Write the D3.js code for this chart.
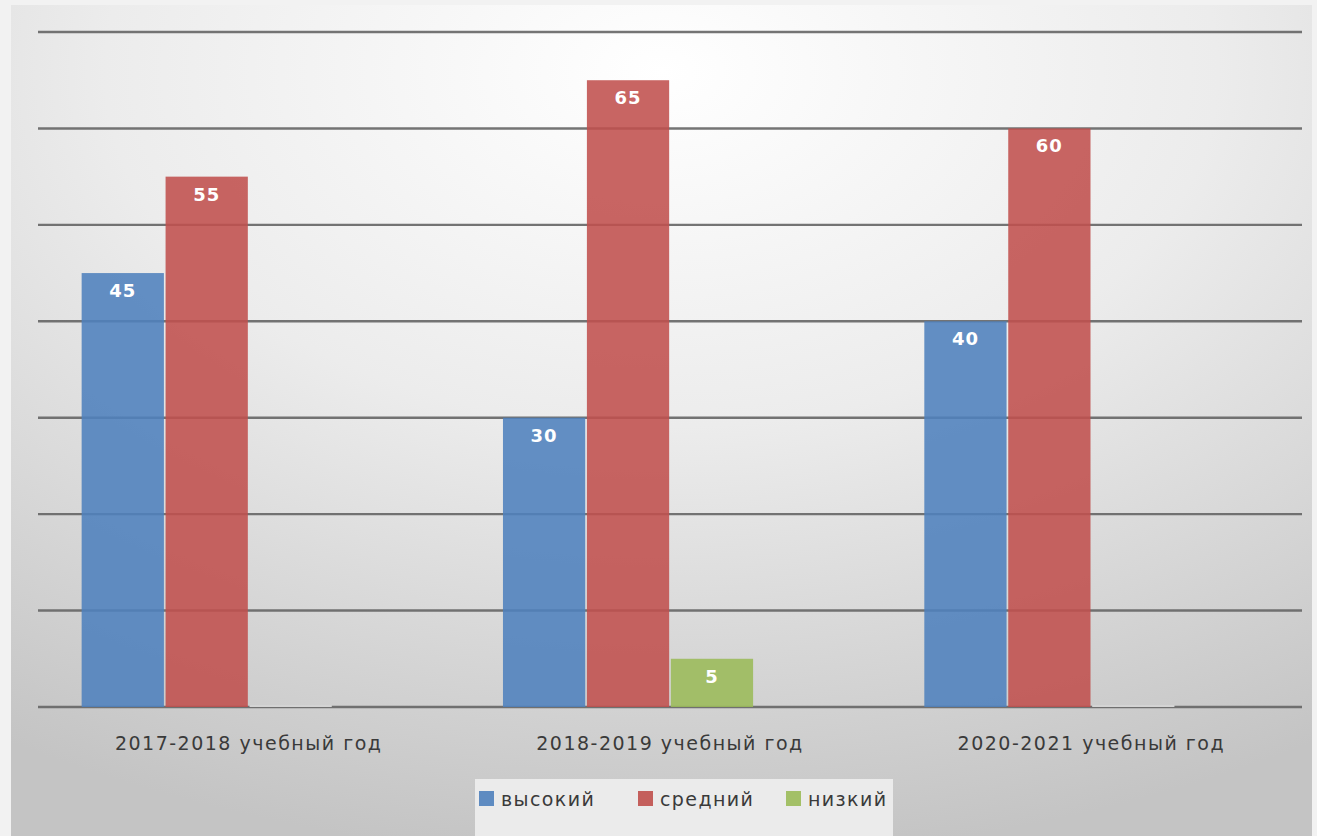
<!DOCTYPE html>
<html>
<head>
<meta charset="utf-8">
<script src="https://cdn.jsdelivr.net/npm/d3@7"></script>
<style>
  html, body { margin: 0; padding: 0; background: #fff; }
  svg { display: block; }
</style>
</head>
<body>
<script>
// data
const categories = ["2017-2018 учебный год", "2018-2019 учебный год", "2020-2021 учебный год"];
const seriesNames = ["высокий", "средний", "низкий"];
const vysokiy = [45, 30, 40];
const sredniy = [55, 65, 60];
const nizkiy = [0, 5, 0];
const yTicks = [0, 10, 20, 30, 40, 50, 60, 70];

const colors = ["#4F81BD", "#C0504D", "#9BBB59"];
const seriesValues = [vysokiy, sredniy, nizkiy];

const W = 1317, H = 836;
const margin = { top: 32, right: 15, bottom: 129, left: 38 };

const svg = d3.select("body").append("svg")
    .attr("width", W)
    .attr("height", H);

// background
const defs = svg.append("defs");
const grad = defs.append("radialGradient")
    .attr("id", "bg")
    .attr("cx", "50%").attr("cy", "8%")
    .attr("r", "95%")
    .attr("gradientUnits", "objectBoundingBox");
grad.append("stop").attr("offset", "0%").attr("stop-color", "#ffffff");
grad.append("stop").attr("offset", "45%").attr("stop-color", "#ececec");
grad.append("stop").attr("offset", "100%").attr("stop-color", "#c4c4c4");

svg.append("rect")
    .attr("x", 0).attr("y", 0).attr("width", W).attr("height", H)
    .attr("fill", "#f2f2f2");
svg.append("rect")
    .attr("x", 11).attr("y", 5).attr("width", 1301).attr("height", H - 5)
    .attr("fill", "url(#bg)");

const x0 = d3.scaleBand()
    .domain(categories)
    .range([margin.left, W - margin.right]);

// four slots per group, the last one is empty
const x1 = d3.scaleBand()
    .domain(d3.range(4))
    .range([0, x0.bandwidth()])
    .paddingInner(0.02)
    .paddingOuter(0.52);

const y = d3.scaleLinear()
    .domain([0, 70])
    .range([H - margin.bottom, margin.top]);

// gridlines
svg.append("g")
    .selectAll("line")
    .data(yTicks)
    .enter().append("line")
    .attr("x1", margin.left)
    .attr("x2", W - margin.right)
    .attr("y1", d => y(d))
    .attr("y2", d => y(d))
    .attr("stroke", "#656565")
    .attr("stroke-width", 2.4)
    .attr("stroke-opacity", 0.9);

// bars
const groups = svg.append("g")
    .selectAll("g")
    .data(categories)
    .enter().append("g")
    .attr("transform", d => "translate(" + x0(d) + ",0)");

groups.selectAll("rect")
    .data((d, i) => seriesValues.map((vals, s) => ({ s: s, v: vals[i] })))
    .enter().append("rect")
    .attr("x", d => x1(d.s))
    .attr("width", x1.bandwidth())
    .attr("y", d => d.v > 0 ? y(d.v) : y(0) - 2)
    .attr("height", d => d.v > 0 ? y(0) - y(d.v) : 2)
    .attr("fill", d => d.v > 0 ? colors[d.s] : "#d4d4d4")
    .attr("fill-opacity", d => d.v > 0 ? 0.88 : 1);

// labels on bars
groups.selectAll("text")
    .data((d, i) => seriesValues.map((vals, s) => ({ s: s, v: vals[i] })).filter(d => d.v > 0))
    .enter().append("text")
    .attr("x", d => x1(d.s) + x1.bandwidth() / 2)
    .attr("y", d => y(d.v) + 24)
    .attr("text-anchor", "middle")
    .attr("font-family", "'DejaVu Sans', sans-serif")
    .attr("font-weight", "bold")
    .attr("font-size", 18)
    .attr("letter-spacing", 1)
    .attr("fill", "#ffffff")
    .text(d => d.v);

// category axis labels
svg.append("g")
    .selectAll("text")
    .data(categories)
    .enter().append("text")
    .attr("x", d => x0(d) + x0.bandwidth() / 2)
    .attr("y", 750)
    .attr("text-anchor", "middle")
    .attr("font-family", "'DejaVu Sans', sans-serif")
    .attr("font-size", 19)
    .attr("letter-spacing", 1.5)
    .attr("fill", "#3a3a3a")
    .text(d => d);

// legend
const legend = svg.append("g");
legend.append("rect")
    .attr("x", 475).attr("y", 779)
    .attr("width", 418).attr("height", 57)
    .attr("fill", "#ebebeb");

const legendX = [479, 638, 786];
const item = legend.selectAll("g.item")
    .data(seriesNames)
    .enter().append("g")
    .attr("class", "item")
    .attr("transform", (d, i) => "translate(" + legendX[i] + ",791)");

item.append("rect")
    .attr("width", 15).attr("height", 15)
    .attr("fill", (d, i) => colors[i])
    .attr("fill-opacity", 0.9);

item.append("text")
    .attr("x", 22)
    .attr("y", 15)
    .attr("font-family", "'DejaVu Sans', sans-serif")
    .attr("font-size", 19)
    .attr("letter-spacing", 1.4)
    .attr("fill", "#3a3a3a")
    .text(d => d);
</script>
</body>
</html>
